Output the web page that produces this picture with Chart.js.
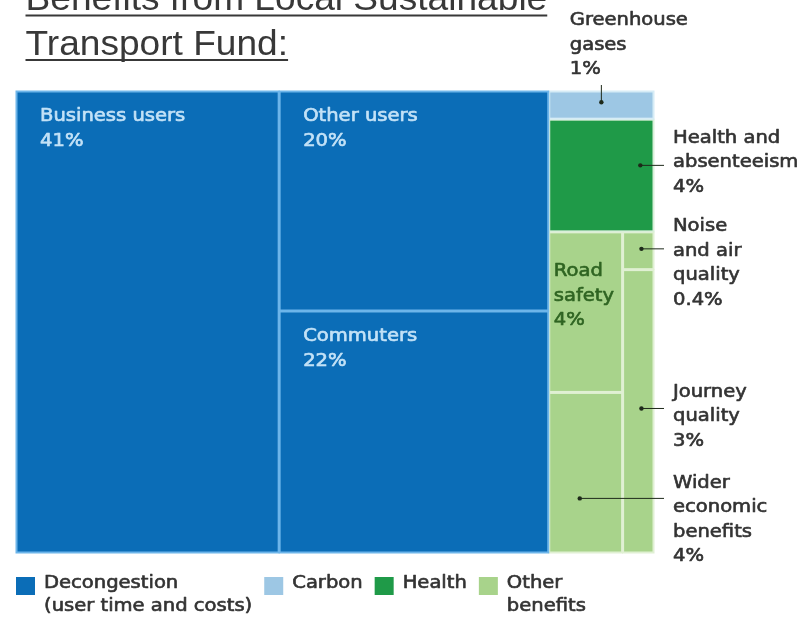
<!DOCTYPE html>
<html><head><meta charset="utf-8">
<script src="https://cdn.jsdelivr.net/npm/chart.js@4.4.0/dist/chart.umd.min.js"></script>
<style>html,body{margin:0;padding:0;background:#fff;overflow:hidden}#wrap{width:801px;height:618px;position:relative}</style>
</head><body><div id="wrap"><canvas id="c"></canvas></div>
<script>
// ---- data ----
const categories = ['Business users','Other users','Commuters','Greenhouse gases','Health and absenteeism','Road safety','Wider economic benefits','Noise and air quality','Journey quality'];
const values = [41, 20, 22, 1, 4, 4, 4, 0.4, 3];
const valueLabels = ['41%','20%','22%','1%','4%','4%','4%','0.4%','3%'];
const labelLines = [['Business users'],['Other users'],['Commuters'],['Greenhouse','gases'],['Health and','absenteeism'],['Road','safety'],['Wider','economic','benefits'],['Noise','and air','quality'],['Journey','quality']];
const groupOf = [0, 0, 0, 1, 2, 3, 3, 3, 3];
const groupNames = [['Decongestion','(user time and costs)'],['Carbon'],['Health'],['Other','benefits']];
const nesting = [0, [1, 2], [3, 4, [[5, 6], [7, 8]]]];
const titleLines = ['Benefits from Local Sustainable', 'Transport Fund:'];

// ---- styles ----
const groupColors = ['#0b6db7', '#9dc7e4', '#1f9a48', '#a8d38b'];
const borderColors = ['#6db5ea', '#d6ecf6', '#d9efd9', '#e0f0d3'];
const innerText = {0:'#c3e2f7', 1:'#c3e2f7', 2:'#c3e2f7', 5:'#2f6422'};
const callouts = {
  3: {top: true, fx: 0.5, fy: 0.4},
  4: {fx: 0.87, fy: 0.41, dy: -27},
  7: {fx: 0.6, fy: 0.45, dy: -22},
  8: {fx: 0.6, fy: 0.49, dy: -16},
  6: {fx: 0.42, fy: 0.66, dy: -15}
};
const FONT = '17px "DejaVu Sans", sans-serif';
const SX = 1.15;
const LH = 24.5;

function sumNode(n){ return Array.isArray(n) ? n.reduce((s,c)=>s+sumNode(c),0) : values[n]; }
function layout(n, x0, y0, x1, y1, horiz, out){
  if(!Array.isArray(n)){ out[n] = {x0, y0, x1, y1}; return; }
  const tot = sumNode(n); let pos = horiz ? x0 : y0;
  for(const c of n){
    const f = sumNode(c) / tot;
    if(horiz){ const w = (x1-x0)*f; layout(c, pos, y0, pos+w, y1, false, out); pos += w; }
    else { const h = (y1-y0)*f; layout(c, x0, pos, x1, pos+h, true, out); pos += h; }
  }
}
function txt(ctx, s, x, y, font, color, sx, base, heavy){
  ctx.save(); ctx.font = font; ctx.fillStyle = color; ctx.strokeStyle = color; ctx.textBaseline = base || 'middle'; ctx.textAlign = 'left';
  ctx.translate(x, y); ctx.scale(sx, 1); ctx.fillText(s, 0, 0);
  if(heavy){ ctx.lineWidth = heavy; ctx.lineJoin = 'round'; ctx.strokeText(s, 0, 0); }
  ctx.restore();
  ctx.save(); ctx.font = font; const w = ctx.measureText(s).width * sx; ctx.restore(); return w;
}
const total = sumNode(nesting);

const treemapPlugin = {
  id: 'treemap',
  afterDraw(chart){
    const {ctx, scales:{x, y}, chartArea} = chart;
    const cells = []; layout(nesting, 0, 0, total, 100, true, cells);
    const px = cells.map(c => ({l: x.getPixelForValue(c.x0), r: x.getPixelForValue(c.x1), t: y.getPixelForValue(c.y0), b: y.getPixelForValue(c.y1)}));
    px.forEach((p, i) => { ctx.fillStyle = groupColors[groupOf[i]]; ctx.fillRect(p.l, p.t, p.r-p.l, p.b-p.t); });
    ctx.lineWidth = 2;
    [3,2,1,0].forEach(g => px.forEach((p, i) => { if(groupOf[i] !== g) return; ctx.strokeStyle = borderColors[g]; ctx.strokeRect(p.l+0.5, p.t+0.5, p.r-p.l-1, p.b-p.t-1); }));
    Object.keys(innerText).forEach(k => {
      const i = +k, p = px[i], narrow = (p.r - p.l) < 100;
      const lx = p.l + (narrow ? 5 : 24), ly = p.t + (narrow ? 40 : 26);
      labelLines[i].concat([valueLabels[i]]).forEach((s, j) => txt(ctx, s, lx, ly + j*LH, FONT, innerText[i], SX, null, 0.6));
    });
    ctx.fillStyle = '#2b2b2b'; ctx.strokeStyle = '#2b2b2b'; ctx.lineWidth = 1;
    Object.keys(callouts).forEach(k => {
      const i = +k, c = callouts[k], p = px[i];
      const dx = p.l + (p.r-p.l)*c.fx, dy = p.t + (p.b-p.t)*c.fy;
      const lines = labelLines[i].concat([valueLabels[i]]);
      ctx.fillStyle = '#1e2a1a'; ctx.strokeStyle = '#1e2a1a'; ctx.lineWidth = 1;
      ctx.beginPath(); ctx.arc(dx, dy, 2.2, 0, Math.PI*2); ctx.fill();
      if(c.top){
        ctx.beginPath(); ctx.moveTo(dx, p.t - 6); ctx.lineTo(dx, dy); ctx.stroke();
        const last = p.t - 21;
        lines.forEach((s, j) => txt(ctx, s, p.l + 21, last - (lines.length-1-j)*LH, FONT, '#333', SX, null, 0.6));
      } else {
        const R = chartArea.right;
        ctx.beginPath(); ctx.moveTo(dx, dy); ctx.lineTo(R + 10, dy); ctx.stroke();
        lines.forEach((s, j) => txt(ctx, s, R + 19, dy + c.dy + j*LH, FONT, '#333', SX, null, 0.6));
      }
    });
    const TF = '35px "Liberation Sans", Arial, sans-serif';
    [10, 54.5].forEach((bl, j) => {
      const w = txt(ctx, titleLines[j], 25.5, bl, TF, '#383838', 1.06, 'alphabetic');
      ctx.fillStyle = '#383838'; ctx.fillRect(25.5, bl + 4.5, w, 2);
    });
    let lx = chartArea.left;
    const ly = chartArea.bottom + 24;
    groupNames.forEach((lines, g) => {
      ctx.fillStyle = groupColors[g]; ctx.fillRect(lx, ly, 19, 18);
      let mw = 0;
      lines.forEach((s, j) => { mw = Math.max(mw, txt(ctx, s, lx + 28, ly + 7 + j*23, FONT, '#333', SX, null, 0.6)); });
      lx += 28 + mw + 12;
    });
  }
};

new Chart(document.getElementById('c'), {
  type: 'scatter',
  data: { datasets: [{ label: 'cells', data: [] }] },
  options: {
    responsive: true, maintainAspectRatio: false, animation: false,
    layout: { padding: { left: 16, right: 147, top: 91, bottom: 65 } },
    scales: {
      x: { type: 'linear', min: 0, max: total, display: false },
      y: { type: 'linear', min: 0, max: 100, reverse: true, display: false }
    },
    plugins: { legend: { display: false }, tooltip: { enabled: false } }
  },
  plugins: [treemapPlugin]
});
</script></body></html>
